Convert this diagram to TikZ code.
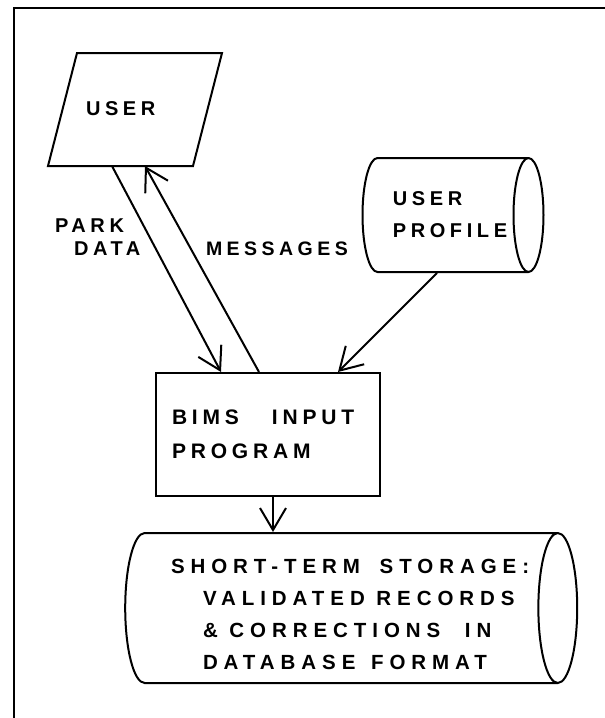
\documentclass[tikz,border=0pt]{standalone}
\usepackage{fontspec}
\newfontfamily\lblfont[LetterSpace=23]{Liberation Sans Bold}
\newfontfamily\storefont[LetterSpace=29]{Liberation Sans Bold}
\usetikzlibrary{arrows.meta,shapes.geometric}

\begin{document}
\begin{tikzpicture}[x=1pt,y=1pt,yscale=-1,xscale=1,line width=2pt,
  txt/.style={font=\lblfont\fontsize{20}{32}\selectfont,inner sep=0pt,align=left},
  flow/.style={-{Straight Barb[length=22pt,width=26pt]}},
  drum/.style={cylinder,draw,aspect=0.65,inner sep=0pt,txt}]
\useasboundingbox (0,0) rectangle (605,718);

%Straight Lines (frame)
\draw (14,718) -- (14,8) -- (605,8) ;

%Shape: Parallelogram
\draw (77,53) -- (222,53) -- (193,166) -- (48,166) -- cycle ;
\coordinate (userpd) at (112,166);
\coordinate (usermsg) at (145,166);
% Text Node
\node [txt,anchor=north west] (user) at (85,100.5) {USER};

%Shape: Cylinder
\node [drum,minimum width=114pt,minimum height=181pt] (profile) at (445,215) {\hspace*{10pt}USER\\\hspace*{10pt}PROFILE};

%Shape: Rectangle
\node [draw,txt,font=\lblfont\fontsize{21}{34}\selectfont,text width=192pt,inner xsep=16pt,minimum height=123pt] (bims) at (268,434.5) {BIMS\hspace{26pt} INPUT\\PROGRAM};

%Shape: Cylinder
\node [drum,aspect=0.35,minimum width=150pt,minimum height=452pt] (store) at (341,608) {\rule{0pt}{111pt}};
% Text Node
\node [txt,font=\storefont\fontsize{20.5}{32}\selectfont,anchor=north west] (storetext) at (170,558.3) {SHORT-TERM\hspace{8pt} STORAGE:\\\hspace*{32pt}VALIDATED RECORDS\\\hspace*{32pt}\& CORRECTIONS\hspace{13pt} IN\\\hspace*{32pt}DATABASE\hspace{4pt} FORMAT};

% Text Node
\node [txt,font=\lblfont\fontsize{20}{23}\selectfont,anchor=north west] (parkdata) at (54,217.5) {PARK\\\hspace*{19pt}DATA};
% Text Node
\node [txt,font=\lblfont\fontsize{19.5}{32}\selectfont,anchor=north west] (messages) at (205,240.8) {MESSAGES};

%Straight Lines
\draw [flow] (userpd) -- ([xshift=66pt]bims.north west) ;
\draw [flow] ([xshift=104pt]bims.north west) -- (usermsg) ;
\draw [flow] ([xshift=-8pt]profile.south) -- ([xshift=183pt]bims.north west) ;
\draw [flow] ([xshift=5pt]bims.south) -- ([xshift=5pt]bims.south |- store.north) ;
\end{tikzpicture}
\end{document}
